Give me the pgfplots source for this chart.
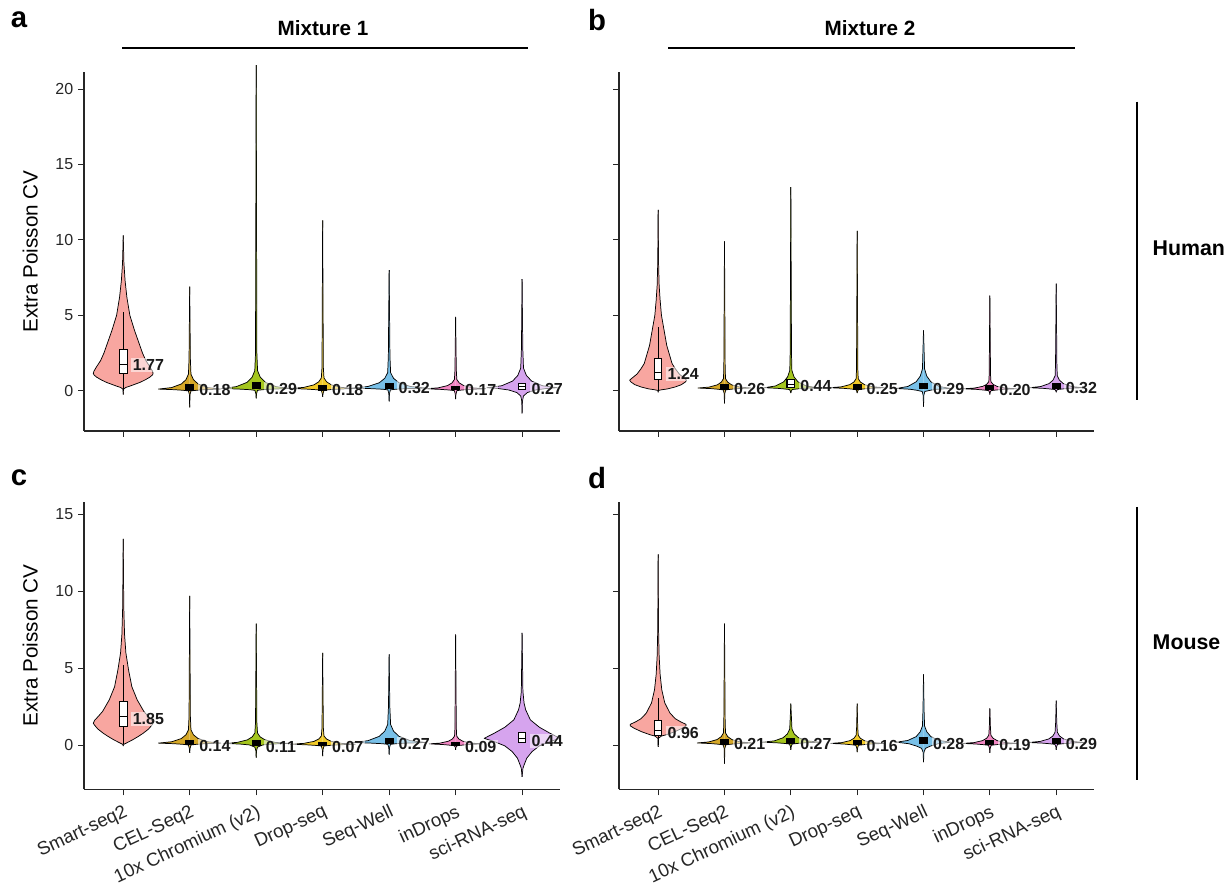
\documentclass[border=0pt]{standalone}
\usepackage{fontspec}
\setmainfont{Liberation Sans}
\usepackage{pgfplots}
\pgfplotsset{compat=1.18}
\usepgfplotslibrary{statistics}
\usepackage{pgfplotstable}

\definecolor{cSmart}{RGB}{248,166,160}
\definecolor{cCel}{RGB}{214,168,40}
\definecolor{cTen}{RGB}{165,198,30}
\definecolor{cDrop}{RGB}{242,202,40}
\definecolor{cSW}{RGB}{120,192,232}
\definecolor{cInd}{RGB}{242,135,195}
\definecolor{cSci}{RGB}{214,164,238}

% violin half-profiles: w = half width (x units), y = value
% Panel a: Mixture 1, Human
\pgfplotstableread[row sep=crcr]{w y\\0 -0.25\\0.003 0.1\\0.04 0.22\\0.09 0.29\\0.17 0.42\\0.25 0.55\\0.33 0.72\\0.40 0.9\\0.44 1.05\\0.45 1.15\\0.44 1.3\\0.40 1.6\\0.34 2.0\\0.29 2.5\\0.25 3.0\\0.17 4.0\\0.10 5.0\\0.055 6.2\\0.028 7.3\\0.01 8.5\\0 10.3\\}\aA
\pgfplotstableread[row sep=crcr]{w y\\0 -1.1\\0.005 -0.24\\0.02 -0.01\\0.1 0.03\\0.235 0.07\\0.47 0.11\\0.273 0.209\\0.127 0.447\\0.056 0.734\\0.019 1.1\\0.01 2.09\\0 6.9\\}\aB
\pgfplotstableread[row sep=crcr]{w y\\0 -0.5\\0.005 -0.2\\0.02 0.03\\0.1 0.07\\0.26 0.11\\0.52 0.15\\0.302 0.268\\0.14 0.551\\0.062 0.893\\0.021 1.33\\0.01 2.51\\0 21.6\\}\aC
\pgfplotstableread[row sep=crcr]{w y\\0 -0.4\\0.005 -0.2\\0.02 0.03\\0.1 0.07\\0.245 0.11\\0.49 0.15\\0.284 0.22\\0.132 0.388\\0.059 0.591\\0.02 0.85\\0.01 1.55\\0 11.3\\}\aD
\pgfplotstableread[row sep=crcr]{w y\\0 -0.7\\0.005 -0.17\\0.02 0.06\\0.1 0.1\\0.275 0.14\\0.55 0.18\\0.319 0.282\\0.149 0.527\\0.066 0.823\\0.022 1.2\\0.012 2.3\\0 8.0\\}\aE
\pgfplotstableread[row sep=crcr]{w y\\0 -0.55\\0.005 -0.22\\0.02 0.01\\0.1 0.05\\0.225 0.09\\0.45 0.13\\0.261 0.192\\0.122 0.341\\0.054 0.521\\0.018 0.75\\0.01 1.37\\0 4.9\\}\aF
\pgfplotstableread[row sep=crcr]{w y\\0 -1.5\\0.005 -0.7\\0.02 -0.35\\0.08 -0.12\\0.2 0.05\\0.35 0.14\\0.53 0.2\\0.307 0.33\\0.143 0.642\\0.064 1.019\\0.021 1.5\\0.01 2.8\\0 7.4\\}\aG
% Panel b: Mixture 2, Human
\pgfplotstableread[row sep=crcr]{w y\\0 -0.1\\0.005 0.02\\0.06 0.07\\0.14 0.12\\0.25 0.24\\0.35 0.4\\0.41 0.58\\0.43 0.7\\0.39 0.85\\0.32 1.1\\0.26 1.45\\0.21 1.8\\0.17 2.4\\0.13 3.0\\0.09 4.0\\0.05 5.0\\0.03 6.0\\0.015 7.0\\0.006 8.5\\0 12.0\\}\bA
\pgfplotstableread[row sep=crcr]{w y\\0 -0.84\\0.005 -0.17\\0.02 0.06\\0.1 0.1\\0.2 0.14\\0.4 0.18\\0.232 0.242\\0.108 0.391\\0.048 0.571\\0.016 0.8\\0.01 1.42\\0 9.9\\}\bB
\pgfplotstableread[row sep=crcr]{w y\\0 -0.15\\0.005 -0.05\\0.02 0.08\\0.1 0.12\\0.2 0.16\\0.4 0.2\\0.232 0.315\\0.108 0.591\\0.048 0.925\\0.016 1.35\\0.01 2.5\\0 13.5\\}\bC
\pgfplotstableread[row sep=crcr]{w y\\0 -0.15\\0.005 -0.05\\0.02 0.08\\0.1 0.12\\0.205 0.16\\0.41 0.2\\0.238 0.26\\0.111 0.404\\0.049 0.578\\0.016 0.8\\0.01 1.4\\0 10.6\\}\bD
\pgfplotstableread[row sep=crcr]{w y\\0 -1.06\\0.005 -0.3\\0.02 -0.05\\0.1 0.03\\0.205 0.1\\0.41 0.15\\0.238 0.28\\0.111 0.592\\0.049 0.969\\0.016 1.45\\0.008 2.75\\0 4.0\\}\bE
\pgfplotstableread[row sep=crcr]{w y\\0 -0.25\\0.005 -0.1\\0.02 0.01\\0.1 0.05\\0.2 0.09\\0.4 0.13\\0.232 0.177\\0.108 0.29\\0.048 0.426\\0.016 0.6\\0.01 1.07\\0 6.3\\}\bF
\pgfplotstableread[row sep=crcr]{w y\\0 -0.1\\0.005 0.0\\0.02 0.08\\0.1 0.12\\0.2 0.16\\0.4 0.2\\0.232 0.28\\0.108 0.472\\0.048 0.704\\0.016 1.0\\0.01 1.8\\0 7.1\\}\bG
% Panel c: Mixture 1, Mouse
\pgfplotstableread[row sep=crcr]{w y\\0 -0.05\\0.004 0.05\\0.05 0.15\\0.14 0.35\\0.23 0.58\\0.3 0.78\\0.38 1.05\\0.43 1.3\\0.45 1.43\\0.43 1.62\\0.37 1.9\\0.31 2.2\\0.21 2.95\\0.13 3.8\\0.08 4.9\\0.04 6.0\\0.02 7.2\\0.008 9.0\\0 13.4\\}\cA
\pgfplotstableread[row sep=crcr]{w y\\0 -0.5\\0.005 -0.21\\0.02 0.02\\0.1 0.06\\0.235 0.1\\0.47 0.14\\0.273 0.226\\0.127 0.432\\0.056 0.682\\0.019 1.0\\0.01 1.86\\0 9.7\\}\cB
\pgfplotstableread[row sep=crcr]{w y\\0 -0.8\\0.005 -0.35\\0.02 -0.12\\0.1 0.02\\0.245 0.08\\0.49 0.12\\0.284 0.188\\0.132 0.351\\0.059 0.548\\0.02 0.8\\0.01 1.48\\0 7.9\\}\cC
\pgfplotstableread[row sep=crcr]{w y\\0 -0.7\\0.005 -0.28\\0.02 -0.05\\0.1 -0.01\\0.245 0.03\\0.49 0.07\\0.284 0.123\\0.132 0.25\\0.059 0.404\\0.02 0.6\\0.01 1.13\\0 6.0\\}\cD
\pgfplotstableread[row sep=crcr]{w y\\0 -0.6\\0.005 -0.17\\0.02 0.06\\0.1 0.1\\0.275 0.14\\0.55 0.18\\0.319 0.297\\0.149 0.578\\0.066 0.917\\0.022 1.35\\0.01 2.52\\0 5.9\\}\cE
\pgfplotstableread[row sep=crcr]{w y\\0 -0.3\\0.005 -0.12\\0.02 -0.03\\0.1 0.01\\0.2 0.05\\0.4 0.09\\0.232 0.141\\0.108 0.263\\0.048 0.411\\0.016 0.6\\0.01 1.11\\0 7.2\\}\cF
\pgfplotstableread[row sep=crcr]{w y\\0 -2.05\\0.012 -1.5\\0.03 -1.28\\0.07 -0.84\\0.15 -0.41\\0.26 -0.04\\0.42 0.24\\0.57 0.45\\0.42 0.78\\0.26 1.17\\0.124 1.65\\0.054 2.3\\0.03 2.73\\0.012 3.5\\0 7.3\\}\cG
% Panel d: Mixture 2, Mouse
\pgfplotstableread[row sep=crcr]{w y\\0 -0.1\\0.004 0.45\\0.05 0.6\\0.12 0.68\\0.25 0.88\\0.36 1.1\\0.42 1.26\\0.42 1.36\\0.34 1.52\\0.26 1.72\\0.18 2.08\\0.1 2.75\\0.055 3.6\\0.03 4.6\\0.015 5.8\\0.006 7.5\\0 12.4\\}\dA
\pgfplotstableread[row sep=crcr]{w y\\0 -1.2\\0.005 -0.2\\0.02 0.03\\0.1 0.07\\0.205 0.11\\0.41 0.15\\0.238 0.215\\0.111 0.371\\0.049 0.56\\0.016 0.8\\0.01 1.45\\0 7.9\\}\dB
\pgfplotstableread[row sep=crcr]{w y\\0 -0.3\\0.005 -0.1\\0.02 0.08\\0.1 0.12\\0.215 0.16\\0.43 0.2\\0.249 0.285\\0.116 0.489\\0.052 0.736\\0.017 1.05\\0.008 1.9\\0 2.7\\}\dC
\pgfplotstableread[row sep=crcr]{w y\\0 -0.45\\0.005 -0.2\\0.02 0\\0.1 0.04\\0.2 0.08\\0.4 0.12\\0.232 0.173\\0.108 0.3\\0.048 0.454\\0.016 0.65\\0.008 1.18\\0 2.7\\}\dD
\pgfplotstableread[row sep=crcr]{w y\\0 -1.1\\0.006 -0.45\\0.03 -0.2\\0.1 -0.06\\0.22 0.1\\0.41 0.2\\0.238 0.31\\0.111 0.56\\0.049 0.88\\0.016 1.25\\0.008 2.3\\0 4.6\\}\dE
\pgfplotstableread[row sep=crcr]{w y\\0 -0.5\\0.005 -0.2\\0.02 0.0\\0.1 0.04\\0.205 0.08\\0.41 0.12\\0.238 0.173\\0.111 0.3\\0.049 0.454\\0.016 0.65\\0.008 1.2\\0 2.4\\}\dF
\pgfplotstableread[row sep=crcr]{w y\\0 -0.3\\0.005 -0.1\\0.02 0.06\\0.1 0.1\\0.21 0.14\\0.42 0.18\\0.244 0.247\\0.113 0.408\\0.05 0.602\\0.017 0.85\\0.008 1.5\\0 2.9\\}\dG

\newcommand{\violin}[3]{%
  \addplot[fill=#2, draw=black, line width=0.55pt, line join=round] table[x expr=#1+\thisrow{w}, y=y] {#3};
  \addplot[fill=#2, draw=black, line width=0.55pt, line join=round] table[x expr=#1-\thisrow{w}, y=y] {#3};
}
% open box (white) with whiskers
\newcommand{\bx}[6]{%
  \addplot[fill=white, draw=black, line width=0.8pt, boxplot/draw direction=y, boxplot prepared={draw position=#1, lower whisker=#2, lower quartile=#3, median=#4, upper quartile=#5, upper whisker=#6, box extend=0.115, whisker extend=0}] coordinates {};
}
% tiny box that renders as a dark square
\newcommand{\bxs}[4]{%
  \addplot[fill=black, draw=black, line width=0.8pt, boxplot/draw direction=y, boxplot prepared={draw position=#1, lower whisker=#2, lower quartile=#2, median=#3, upper quartile=#4, upper whisker=#4, box extend=0.12, whisker extend=0}] coordinates {};
}
% median label: x position, y position, text
\newcommand{\lab}[3]{%
  \node[anchor=west, font=\bfseries\fontsize{12}{14}\selectfont, text=black!90, fill=white, fill opacity=0.55, text opacity=1, inner sep=1pt] at (axis cs:#1,#2) {#3};
}

\pgfplotsset{panel/.style={
  scale only axis, anchor=south west,
  axis lines=left, axis line style={-, line width=0.8pt, black!85},
  tick align=outside, major tick length=4.5pt, tick style={line width=0.8pt, black!85},
  xmin=-0.59, xmax=6.57, xtick={0,...,6}, clip=false,
  yticklabel style={font=\fontsize{12}{14}\selectfont, text=black!85},
  /pgf/number format/assume math mode=true,
  ylabel style={at={(axis description cs:-0.113,0.5)}, anchor=center},
  width=357pt,
}}
\pgfplotsset{bottomlabels/.style={
  xticklabels={Smart-seq2,CEL-Seq2,10x Chromium (v2),Drop-seq,Seq-Well,inDrops,sci-RNA-seq},
  xticklabel style={rotate=25, anchor=north east, font=\fontsize{14}{15}\selectfont, text=black!85, inner sep=0.5pt},
  xticklabel shift=5.5pt,
}}

\begin{document}
\begin{tikzpicture}
\useasboundingbox (0,0) rectangle (922.5pt,663.75pt);

% ---------- a ----------
\begin{axis}[panel, at={(63pt,340.5pt)}, height=269.25pt,
  ymin=-2.67, ymax=21.14, ytick={0,5,10,15,20}, xticklabels={},
  ylabel={\fontsize{15.5}{18}\selectfont Extra Poisson CV}]
\violin{0}{cSmart}{\aA}
\violin{1}{cCel}{\aB}
\violin{2}{cTen}{\aC}
\violin{3}{cDrop}{\aD}
\violin{4}{cSW}{\aE}
\violin{5}{cInd}{\aF}
\violin{6}{cSci}{\aG}
\bx{0}{0.0}{1.16}{1.77}{2.76}{5.2}
\bxs{1}{0.05}{0.18}{0.40}
\bxs{2}{0.12}{0.29}{0.52}
\bxs{3}{0.05}{0.18}{0.35}
\bxs{4}{0.15}{0.32}{0.50}
\bxs{5}{0.07}{0.17}{0.28}
\bx{6}{0.08}{0.08}{0.27}{0.50}{0.50}
\lab{0.12}{1.7}{1.77}
\lab{1.12}{0.03}{0.18}
\lab{2.12}{0.14}{0.29}
\lab{3.12}{0.03}{0.18}
\lab{4.12}{0.17}{0.32}
\lab{5.12}{0.02}{0.17}
\lab{6.12}{0.12}{0.27}
\end{axis}

% ---------- b ----------
\begin{axis}[panel, at={(464.25pt,340.5pt)}, height=269.25pt, width=356.25pt,
  ymin=-2.67, ymax=21.14, ytick={0,5,10,15,20}, xticklabels={}, yticklabels={}]
\violin{0}{cSmart}{\bA}
\violin{1}{cCel}{\bB}
\violin{2}{cTen}{\bC}
\violin{3}{cDrop}{\bD}
\violin{4}{cSW}{\bE}
\violin{5}{cInd}{\bF}
\violin{6}{cSci}{\bG}
\bx{0}{0.0}{0.73}{1.24}{2.14}{4.2}
\bxs{1}{0.10}{0.26}{0.42}
\bx{2}{0.22}{0.22}{0.44}{0.72}{0.72}
\bxs{3}{0.10}{0.25}{0.40}
\bxs{4}{0.12}{0.29}{0.48}
\bxs{5}{0.08}{0.20}{0.32}
\bxs{6}{0.15}{0.32}{0.50}
\lab{0.12}{1.1}{1.24}
\lab{1.12}{0.11}{0.26}
\lab{2.12}{0.29}{0.44}
\lab{3.12}{0.10}{0.25}
\lab{4.12}{0.14}{0.29}
\lab{5.12}{0.05}{0.20}
\lab{6.12}{0.17}{0.32}
\end{axis}

% ---------- c ----------
\begin{axis}[panel, bottomlabels, at={(63pt,71.78pt)}, height=215.7pt,
  ymin=-2.86, ymax=15.82, ytick={0,5,10,15},
  ylabel={\fontsize{15.5}{18}\selectfont Extra Poisson CV}]
\violin{0}{cSmart}{\cA}
\violin{1}{cCel}{\cB}
\violin{2}{cTen}{\cC}
\violin{3}{cDrop}{\cD}
\violin{4}{cSW}{\cE}
\violin{5}{cInd}{\cF}
\violin{6}{cSci}{\cG}
\bx{0}{0.05}{1.21}{1.85}{2.84}{5.2}
\bxs{1}{0.04}{0.14}{0.30}
\bxs{2}{0.0}{0.11}{0.30}
\bxs{3}{-0.02}{0.07}{0.20}
\bxs{4}{0.10}{0.27}{0.45}
\bxs{5}{0.0}{0.09}{0.20}
\bx{6}{0.15}{0.15}{0.44}{0.85}{0.85}
\lab{0.12}{1.7}{1.85}
\lab{1.12}{-0.06}{0.14}
\lab{2.12}{-0.09}{0.11}
\lab{3.12}{-0.13}{0.07}
\lab{4.12}{0.07}{0.27}
\lab{5.12}{-0.11}{0.09}
\lab{6.12}{0.3}{0.44}
\end{axis}

% ---------- d ----------
\begin{axis}[panel, bottomlabels, at={(464.25pt,71.78pt)}, height=215.7pt, width=356.25pt,
  ymin=-2.86, ymax=15.82, ytick={0,5,10,15}, yticklabels={}]
\violin{0}{cSmart}{\dA}
\violin{1}{cCel}{\dB}
\violin{2}{cTen}{\dC}
\violin{3}{cDrop}{\dD}
\violin{4}{cSW}{\dE}
\violin{5}{cInd}{\dF}
\violin{6}{cSci}{\dG}
\bx{0}{0.0}{0.63}{0.96}{1.60}{3.05}
\bxs{1}{0.08}{0.21}{0.35}
\bxs{2}{0.12}{0.27}{0.42}
\bxs{3}{0.05}{0.16}{0.30}
\bxs{4}{0.10}{0.28}{0.50}
\bxs{5}{0.06}{0.19}{0.32}
\bxs{6}{0.12}{0.29}{0.45}
\lab{0.12}{0.8}{0.96}
\lab{1.12}{0.06}{0.21}
\lab{2.12}{0.07}{0.27}
\lab{3.12}{-0.04}{0.16}
\lab{4.12}{0.08}{0.28}
\lab{5.12}{-0.01}{0.19}
\lab{6.12}{0.09}{0.29}
\end{axis}

% ---------- annotations ----------
\node[font=\bfseries\fontsize{22}{26}\selectfont] at (14.25pt,648.75pt) {a};
\node[font=\bfseries\fontsize{22}{26}\selectfont] at (447.75pt,648.75pt) {b};
\node[font=\bfseries\fontsize{22}{26}\selectfont] at (14.25pt,305.25pt) {c};
\node[font=\bfseries\fontsize{22}{26}\selectfont] at (447.75pt,305.25pt) {d};

\node[font=\bfseries\fontsize{15.5}{18}\selectfont] at (242.25pt,642.75pt) {Mixture 1};
\draw[line width=1.6pt] (91.5pt,627.75pt) -- (396pt,627.75pt);
\node[font=\bfseries\fontsize{15.5}{18}\selectfont] at (652.5pt,642.75pt) {Mixture 2};
\draw[line width=1.6pt] (501pt,627.75pt) -- (806.25pt,627.75pt);

\draw[line width=1.5pt] (852.75pt,587.5pt) -- (852.75pt,363.75pt);
\draw[line width=1.5pt] (852.75pt,283.5pt) -- (852.75pt,78.75pt);
\node[anchor=west, font=\bfseries\fontsize{16}{19}\selectfont] at (861pt,477.75pt) {Human};
\node[anchor=west, font=\bfseries\fontsize{16}{19}\selectfont] at (861pt,182.25pt) {Mouse};
\end{tikzpicture}
\end{document}
